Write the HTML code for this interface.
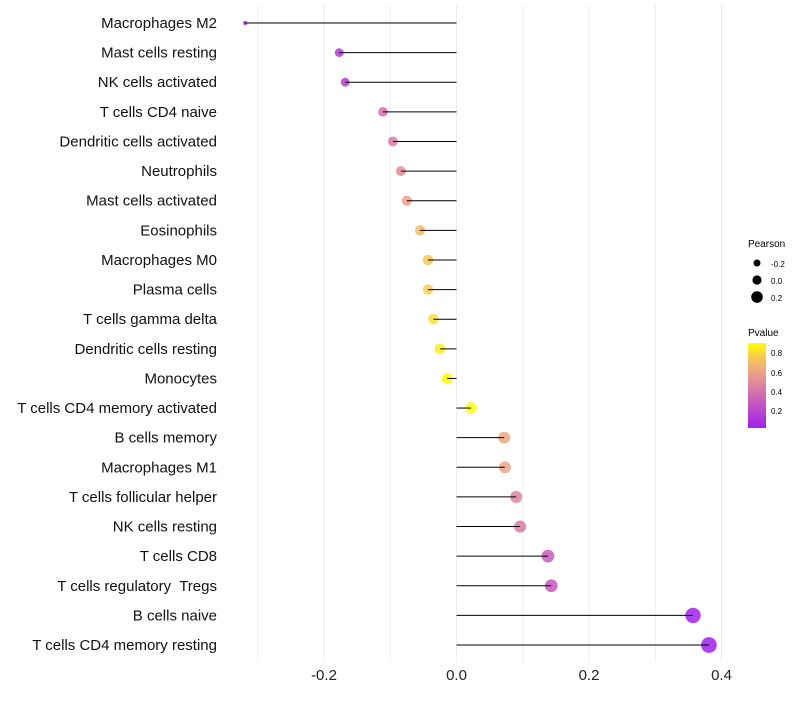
<!DOCTYPE html>
<html><head><meta charset="utf-8"><style>
body{margin:0;background:#fff;font-family:"Liberation Sans",sans-serif}
svg text{font-family:"Liberation Sans",sans-serif;white-space:pre}
</style></head><body>
<svg id="chart" width="800" height="700">
<defs><linearGradient id="pg" x1="0" y1="1" x2="0" y2="0">
<stop offset="0" stop-color="#a020f0"/><stop offset="0.3" stop-color="#c858c0"/>
<stop offset="0.6" stop-color="#e89890"/><stop offset="0.8" stop-color="#f5c060"/>
<stop offset="1" stop-color="#ffff00"/></linearGradient></defs>
<g id="grid"></g><g id="dots"></g><g id="marks"></g><g id="labels"></g><g id="xaxis"></g>
<g>
<text x="748" y="247" font-size="10">Pearson</text>
<circle cx="757" cy="263" r="3.5" fill="#000"/><text x="771" y="267" font-size="8">-0.2</text>
<circle cx="757" cy="280" r="4.6" fill="#000"/><text x="771" y="284" font-size="8">0.0</text>
<circle cx="757" cy="297" r="5.8" fill="#000"/><text x="771" y="301" font-size="8">0.2</text>
<text x="748" y="336" font-size="10">Pvalue</text>
<rect x="748" y="343" width="18" height="85" fill="url(#pg)"/>
<text x="771" y="356" font-size="8">0.8</text><text x="771" y="376" font-size="8">0.6</text>
<text x="771" y="395" font-size="8">0.4</text><text x="771" y="414" font-size="8">0.2</text>
</g>
</svg>
<script>
const categories=["Macrophages M2","Mast cells resting","NK cells activated","T cells CD4 naive","Dendritic cells activated","Neutrophils","Mast cells activated","Eosinophils","Macrophages M0","Plasma cells","T cells gamma delta","Dendritic cells resting","Monocytes","T cells CD4 memory activated","B cells memory","Macrophages M1","T cells follicular helper","NK cells resting","T cells CD8","T cells regulatory  Tregs","B cells naive","T cells CD4 memory resting"];
const pearson=[-0.319,-0.177,-0.168,-0.111,-0.096,-0.084,-0.075,-0.055,-0.043,-0.043,-0.035,-0.025,-0.014,0.022,0.072,0.073,0.090,0.096,0.138,0.143,0.357,0.381];
const pvalue=[0.05,0.15,0.17,0.38,0.42,0.5,0.58,0.7,0.74,0.75,0.8,0.85,0.92,0.92,0.62,0.6,0.46,0.42,0.3,0.28,0.04,0.03];
const xTicks=[-0.2,0,0.2,0.4];
const xTickLabels=["-0.2","0.0","0.2","0.4"];
const NS="http://www.w3.org/2000/svg";
const xs=v=>456.5+v*662.5;
const ys=i=>23+i*29.62;
const rs=v=>v<-0.2?Math.max(1.8,4.4-(-0.177-v)*16):4.4+(v+0.177)*6.2;
const stops=[[0,[160,32,240]],[0.3,[200,88,192]],[0.6,[232,152,144]],[0.8,[245,192,96]],[1,[255,255,0]]];
function col(p){let t=Math.max(0,Math.min(1,(p-0.03)/0.86));for(let k=1;k<stops.length;k++){if(t<=stops[k][0]){const a=stops[k-1],b=stops[k],f=(t-a[0])/(b[0]-a[0]);return "rgb("+a[1].map((c,j)=>Math.round(c+(b[1][j]-c)*f)).join(",")+")";}}return "rgb(255,255,0)";}
function mk(t,a,parent){const e=document.createElementNS(NS,t);for(const k in a)e.setAttribute(k,a[k]);parent.appendChild(e);return e;}
const grid=document.getElementById('grid'),dots=document.getElementById('dots'),marks=document.getElementById('marks'),labels=document.getElementById('labels'),xa=document.getElementById('xaxis');
for(let v=-0.3;v<=0.41;v+=0.1){const g=mk('line',{x1:xs(v),x2:xs(v),y1:5,y2:662,stroke:'#ededed','stroke-width':1},grid);

}
xTicks.forEach((v,i)=>{const t=mk('text',{x:xs(v),y:680,'font-size':15,'text-anchor':'middle',fill:'#222'},xa);t.textContent=xTickLabels[i];

});
categories.forEach((c,i)=>{const y=ys(i);
const d=mk('circle',{cx:xs(pearson[i]),cy:y,r:rs(pearson[i]),fill:col(pvalue[i]),'fill-opacity':0.85},dots);


const l=mk('line',{x1:xs(0),x2:xs(pearson[i]),y1:y,y2:y,stroke:'#000','stroke-width':1},marks);


const t=mk('text',{x:217,y:y+5,'font-size':15,'text-anchor':'end',fill:'#111'},labels);t.textContent=c;

});
</script>
</body></html>
